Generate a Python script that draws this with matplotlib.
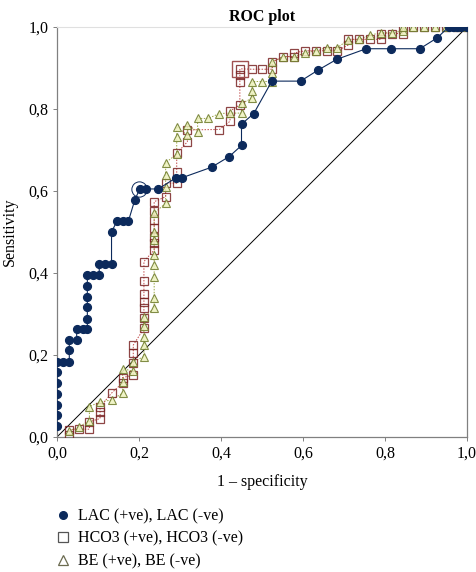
import matplotlib
matplotlib.use("Agg")
import matplotlib.pyplot as plt
from matplotlib.lines import Line2D

# ---------------- data ----------------
lac_fpr = [0, 0, 0, 0, 0, 0, 0,
           0.015, 0.03, 0.03, 0.03, 0.048, 0.048, 0.064,
           0.074, 0.074, 0.074, 0.074, 0.074, 0.074, 0.089, 0.103,
           0.103, 0.118, 0.133, 0.133, 0.146, 0.16, 0.174, 0.19,
           0.202, 0.216, 0.247, 0.29, 0.304, 0.377, 0.42, 0.45,
           0.45, 0.48, 0.524, 0.594, 0.637, 0.682, 0.754, 0.814,
           0.885, 0.928, 0.955, 0.965, 0.975, 0.985, 1.0]
lac_tpr = [0.026, 0.053, 0.079, 0.105, 0.132, 0.158, 0.184,
           0.184, 0.184, 0.211, 0.237, 0.237, 0.263, 0.263,
           0.263, 0.289, 0.316, 0.342, 0.368, 0.395, 0.395, 0.395,
           0.421, 0.421, 0.421, 0.5, 0.526, 0.526, 0.526, 0.579,
           0.605, 0.605, 0.605, 0.632, 0.632, 0.658, 0.684, 0.711,
           0.763, 0.789, 0.868, 0.868, 0.895, 0.921, 0.947, 0.947,
           0.947, 0.974, 1.0, 1.0, 1.0, 1.0, 1.0]

hco3_fpr = [0.03, 0.03, 0.054, 0.079, 0.079, 0.105, 0.105, 0.105,
            0.133, 0.16, 0.16, 0.186, 0.186, 0.186, 0.186,
            0.212, 0.212, 0.212, 0.212, 0.212, 0.212, 0.212,
            0.237, 0.237, 0.237, 0.237, 0.237, 0.237, 0.237,
            0.265, 0.265, 0.292, 0.292, 0.292, 0.318, 0.318,
            0.396, 0.422, 0.422, 0.446, 0.446, 0.446, 0.446,
            0.476, 0.50, 0.525, 0.525, 0.552, 0.579, 0.579,
            0.605, 0.632, 0.658, 0.684, 0.71, 0.71, 0.737, 0.763,
            0.79, 0.79, 0.816, 0.843, 0.843, 0.869, 0.896, 0.922,
            0.948, 0.975, 1.0]
hco3_tpr = [0.005, 0.017, 0.019, 0.019, 0.037, 0.045, 0.062, 0.073,
            0.107, 0.132, 0.145, 0.151, 0.18, 0.205, 0.224,
            0.265, 0.29, 0.314, 0.33, 0.35, 0.38, 0.428,
            0.456, 0.472, 0.488, 0.51, 0.529, 0.55, 0.574,
            0.586, 0.619, 0.619, 0.646, 0.692, 0.72, 0.749,
            0.75, 0.77, 0.795, 0.81, 0.866, 0.883, 0.898,
            0.897, 0.897, 0.897, 0.915, 0.928, 0.928, 0.937,
            0.942, 0.942, 0.942, 0.942, 0.956, 0.97, 0.97, 0.97,
            0.97, 0.984, 0.984, 0.984, 1.0, 1.0, 1.0, 1.0,
            1.0, 1.0, 1.0]

be_fpr = [0.03, 0.054, 0.079, 0.079, 0.105, 0.133, 0.16, 0.16, 0.16,
          0.186, 0.186, 0.212, 0.212, 0.212, 0.212, 0.212,
          0.237, 0.237, 0.237, 0.237, 0.237, 0.237, 0.237, 0.237,
          0.265, 0.265, 0.265, 0.265, 0.292, 0.292, 0.292,
          0.318, 0.318, 0.343, 0.343, 0.369, 0.396, 0.422,
          0.45, 0.45, 0.476, 0.476, 0.476, 0.50, 0.525, 0.525, 0.525,
          0.552, 0.579, 0.605, 0.632, 0.658, 0.684, 0.71, 0.737,
          0.763, 0.79, 0.816, 0.843, 0.843, 0.869, 0.896, 0.922,
          0.948, 0.975, 1.0]
be_tpr = [0.015, 0.025, 0.04, 0.074, 0.086, 0.09, 0.107, 0.135, 0.167,
          0.16, 0.184, 0.196, 0.224, 0.245, 0.27, 0.293,
          0.314, 0.338, 0.39, 0.42, 0.445, 0.48, 0.5, 0.546,
          0.57, 0.61, 0.64, 0.669, 0.69, 0.732, 0.757,
          0.736, 0.762, 0.745, 0.777, 0.777, 0.789, 0.79,
          0.79, 0.814, 0.826, 0.845, 0.867, 0.867, 0.867, 0.889, 0.914,
          0.928, 0.927, 0.937, 0.942, 0.95, 0.95, 0.968, 0.97,
          0.98, 0.986, 0.986, 0.99, 1.0, 1.0, 1.0, 1.0,
          1.0, 1.0, 1.0]

lac_opt = (0.20, 0.605)
hco3_opt = (0.446, 0.898)

tick_vals = [0.0, 0.2, 0.4, 0.6, 0.8, 1.0]
tick_labels = ["0,0", "0,2", "0,4", "0,6", "0,8", "1,0"]

legend_labels = ["LAC (+ve), LAC (-ve)",
                 "HCO3 (+ve), HCO3 (-ve)",
                 "BE (+ve), BE (-ve)"]

# ---------------- style ----------------
plt.rcParams['font.family'] = ['Liberation Serif', 'DejaVu Serif']
NAVY = "#0c2a5c"
RED_E = "#7a2424"
RED_L = "#c04848"
OLIVE_E = "#6d7a2a"
OLIVE_F = "#eef3bf"
SPINE = "#808080"

fig = plt.figure(figsize=(4.76, 5.72), dpi=100)
ax = fig.add_axes([57/476, 1-437/572, 410/476, 410/572])

# diagonal reference
ax.plot([0, 1], [0, 1], color="black", lw=0.7, zorder=1)

# BE
ax.plot(be_fpr, be_tpr, color="#9aa640", lw=0.7, ls=(0, (1.5, 1.5)), zorder=2)
ax.plot(be_fpr, be_tpr, ls="none", marker="^", ms=6.2, mfc=OLIVE_F,
        mec=OLIVE_E, mew=0.8, alpha=0.85, zorder=4)

# HCO3
ax.plot(hco3_fpr, hco3_tpr, color=RED_L, lw=0.7, ls=(0, (1.5, 1.5)), zorder=2)
ax.plot(hco3_fpr, hco3_tpr, ls="none", marker="s", ms=5.8, mfc="none",
        mec=RED_E, mew=0.9, alpha=0.85, zorder=3)

# LAC
ax.plot(lac_fpr, lac_tpr, color=NAVY, lw=0.8, zorder=5)
ax.plot(lac_fpr, lac_tpr, ls="none", marker="o", ms=5.6, mfc=NAVY,
        mec=NAVY, zorder=6)

# optimal points
ax.plot([lac_opt[0]], [lac_opt[1]], marker="o", ms=11, mfc="none",
        mec=NAVY, mew=0.7, ls="none", zorder=7)
ax.plot([hco3_opt[0]], [hco3_opt[1]], marker="s", ms=11, mfc="none",
        mec="#a05050", mew=1.0, ls="none", zorder=7)

ax.set_xlim(0, 1)
ax.set_ylim(0, 1)
ax.set_xticks(tick_vals)
ax.set_xticklabels(tick_labels)
ax.set_yticks(tick_vals)
ax.set_yticklabels(tick_labels)
ax.tick_params(axis="both", labelsize=11.5, length=3, width=0.7,
               color=SPINE, direction="out", pad=3)
for side in ["left", "bottom", "right"]:
    ax.spines[side].set_color(SPINE)
    ax.spines[side].set_linewidth(0.9)
ax.spines["top"].set_color("#e0e0e0")
ax.spines["top"].set_linewidth(0.8)

ax.set_xlabel("1 \u2013 specificity", fontsize=11.5, labelpad=9)
ax.set_ylabel("Sensitivity", fontsize=11.5, labelpad=8)
ax.set_title("ROC plot", fontsize=11.5, fontweight="bold", pad=4)

handles = [
    Line2D([], [], ls="none", marker="o", ms=5.5, mfc=NAVY, mec=NAVY),
    Line2D([], [], ls="none", marker="s", ms=7, mfc="white", mec="#555555", mew=0.9),
    Line2D([], [], ls="none", marker="^", ms=7, mfc="white", mec="#6b6b50", mew=0.9),
]
fig.legend(handles, legend_labels, loc="upper left",
           bbox_to_anchor=(44/476, 1-497/572), frameon=False,
           fontsize=11.5, handlelength=1.0, handletextpad=0.45,
           labelspacing=0.42, borderpad=0.2)

fig.savefig("out.png", dpi=100)
